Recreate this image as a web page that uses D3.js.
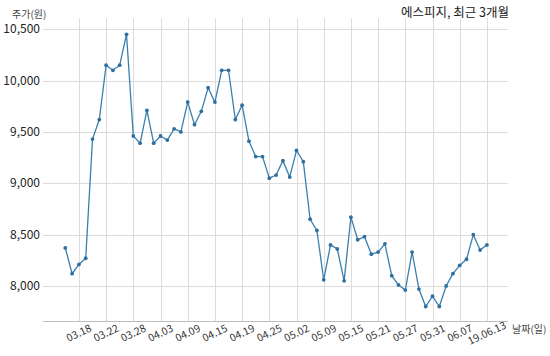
<!DOCTYPE html>
<html><head><meta charset="utf-8">
<script src="https://cdn.jsdelivr.net/npm/d3@7"></script>
<style>
html,body{margin:0;padding:0;background:#fff;}
svg{display:block;}
text{font-family:"Noto Sans CJK KR","Noto Sans",sans-serif;}
</style></head>
<body>
<script>
const dates = [
 "03.14","03.15","03.18","03.19","03.20","03.21","03.22","03.25","03.26","03.27","03.28","03.29",
 "04.01","04.02","04.03","04.04","04.05","04.08","04.09","04.10","04.11","04.12","04.15","04.16","04.17","04.18","04.19","04.22","04.23","04.24","04.25","04.26","04.29","04.30",
 "05.02","05.03","05.07","05.08","05.09","05.10","05.13","05.14","05.15","05.16","05.17","05.20","05.21","05.22","05.23","05.24","05.27","05.28","05.29","05.30","05.31",
 "06.03","06.04","06.05","06.07","06.10","06.11","06.12","06.13"
];
const prices = [
 8370,8120,8210,8270,9430,9620,10150,10100,10150,10450,9460,9390,
 9710,9390,9460,9420,9530,9500,9790,9570,9700,9930,9790,10100,10100,9620,9760,9410,9260,9260,9050,9080,9220,9060,
 9320,9210,8650,8540,8060,8400,8360,8050,8670,8450,8480,8310,8330,8410,8100,8010,7960,8330,7970,7800,7900,
 7800,8000,8120,8200,8260,8500,8350,8400
];
const tickDates = ["03.18","03.22","03.28","04.03","04.09","04.15","04.19","04.25","05.02","05.09","05.15","05.21","05.27","05.31","06.07","06.13"];
const tickLabels = ["03.18","03.22","03.28","04.03","04.09","04.15","04.19","04.25","05.02","05.09","05.15","05.21","05.27","05.31","06.07","19.06.13"];
const yTicks = [8000,8500,9000,9500,10000,10500];
const title = "에스피지, 최근 3개월";
const yTitle = "주가(원)";
const xTitle = "날짜(일)";

const W = 550, H = 356;
const svg = d3.select("body").append("svg").attr("width", W).attr("height", H);

const x = d3.scaleLinear().domain([-3.28, 65.1]).range([43, 508]);
const y = d3.scaleLinear().domain([7659, 10609]).range([321, 18]);

const data = dates.map((d, i) => ({d, i, v: prices[i]}));

svg.append("g").selectAll("line").data(yTicks).join("line")
  .attr("x1", 43).attr("x2", 508)
  .attr("y1", d => Math.round(y(d)) + 0.5).attr("y2", d => Math.round(y(d)) + 0.5)
  .attr("stroke", "#dcdcdc").attr("stroke-width", 1);

svg.append("g").selectAll("line").data(tickDates).join("line")
  .attr("x1", d => Math.round(x(dates.indexOf(d))) + 0.5)
  .attr("x2", d => Math.round(x(dates.indexOf(d))) + 0.5)
  .attr("y1", 18).attr("y2", 321)
  .attr("stroke", "#dcdcdc").attr("stroke-width", 1);

svg.append("line").attr("x1", 43).attr("x2", 508).attr("y1", 321.5).attr("y2", 321.5)
  .attr("stroke", "#bdbdbd").attr("stroke-width", 1);

svg.append("g").selectAll("text").data(yTicks).join("text")
  .attr("x", 40).attr("y", d => y(d))
  .attr("dy", "0.35em").attr("text-anchor", "end")
  .attr("font-size", 12).attr("fill", "#222")
  .text(d => d3.format(",")(d));

svg.append("g").selectAll("text").data(tickDates).join("text")
  .attr("transform", d => `translate(${x(dates.indexOf(d))},333) rotate(-25)`)
  .attr("text-anchor", "middle").attr("dy", "0.35em")
  .attr("font-size", 10.5).attr("fill", "#333")
  .text((d, i) => tickLabels[i]);

svg.append("path").datum(data)
  .attr("fill", "none").attr("stroke", "#3b7fad").attr("stroke-width", 1.3)
  .attr("d", d3.line().x(d => x(d.i)).y(d => y(d.v)));

svg.append("g").selectAll("circle").data(data).join("circle")
  .attr("cx", d => x(d.i)).attr("cy", d => y(d.v)).attr("r", 1.9)
  .attr("fill", "#2f6f9f");

svg.append("text").attr("x", 12).attr("y", 14).attr("dy", "0.35em")
  .attr("font-size", 10).attr("fill", "#444").text(yTitle);
svg.append("text").attr("x", 512).attr("y", 329).attr("dy", "0.35em")
  .attr("font-size", 10).attr("fill", "#444").text(xTitle);
svg.append("text").attr("x", 509).attr("y", 12.5).attr("dy", "0.35em")
  .attr("text-anchor", "end")
  .attr("font-size", 12.5).attr("fill", "#222").text(title);
</script>
</body></html>
